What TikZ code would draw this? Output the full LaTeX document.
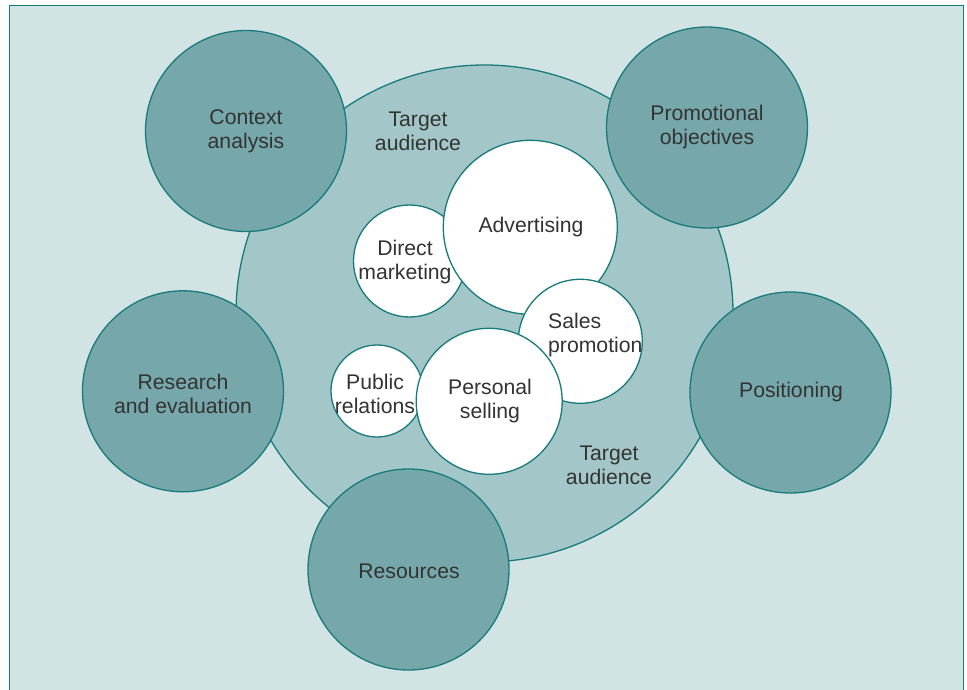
\documentclass[tikz,border=0pt]{standalone}
\usepackage{fontspec}
\setmainfont{Liberation Sans}
\definecolor{bgc}{HTML}{D2E3E3}
\definecolor{bigc}{HTML}{A3C7C8}
\definecolor{darkc}{HTML}{76A8AB}
\definecolor{edgec}{HTML}{187A7A}
\definecolor{txtc}{HTML}{333333}
\tikzset{
  circ/.style={circle, draw=edgec, line width=1.3pt, inner sep=0pt},
  outer/.style={circ, fill=darkc, minimum size=201pt},
  inner/.style={circ, fill=white},
  lbl/.style={text=txtc, font=\fontsize{21.2pt}{24pt}\selectfont, align=center, inner sep=0pt},
}
\begin{document}
\begin{tikzpicture}[x=1pt,y=-1pt]
\useasboundingbox (0,0) rectangle (967,690);
\fill[white] (0,0) rectangle (967,690);
\fill[bgc] (9.5,5.5) rectangle (963.5,695);
\draw[edgec, line width=1.8pt] (9.5,695) -- (9.5,5.5) -- (963.5,5.5) -- (963.5,695);
% big target audience circle
\node[circ, fill=bigc, minimum size=497pt] (ta) at (484.5,313.5) {};
% outer circles
\node[outer] (ctx) at (246,131) {};
\node[outer] (pro) at (707,127.5) {};
\node[outer] (res) at (183,391.3) {};
\node[outer] (pos) at (790.5,392.5) {};
\node[outer] (rsc) at (408.5,569.5) {};
% inner circles
\node[inner, minimum size=112pt] (dm) at (409.5,261) {};
\node[inner, minimum size=174pt] (adv) at (530.3,227.3) {};
\node[inner, minimum size=124pt] (sp) at (580.3,341.3) {};
\node[inner, minimum size=92pt] (pr) at (377,391) {};
\node[inner, minimum size=146pt] (ps) at (489.2,401.3) {};
% labels
\node[lbl] (tctx) at (246,131.5) {Context\\analysis};
\node[lbl] (tta1) at (418,131.5) {Target\\audience};
\node[lbl] (tpro) at (707,127.5) {Promotional\\objectives};
\node[lbl] (tadv) at (531,227.5) {Advertising};
\node[lbl] (tdm) at (405,262.5) {Direct\\marketing};
\node[lbl, align=left, anchor=west] (tsp) at (548,335.5) {Sales\\promotion};
\node[lbl] (tpos) at (791,392.5) {Positioning};
\node[lbl] (tres) at (183,393.5) {Research\\and evaluation};
\node[lbl] (tpr) at (375,393.5) {Public\\relations};
\node[lbl] (tps) at (490,401.5) {Personal\\selling};
\node[lbl] (tta2) at (609,465.5) {Target\\audience};
\node[lbl] (trsc) at (409,571.5) {Resources};
\end{tikzpicture}
\end{document}
